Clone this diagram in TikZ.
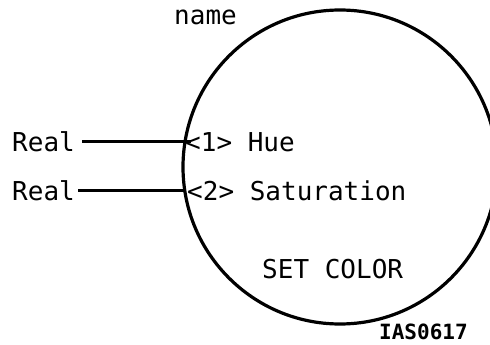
\documentclass[tikz,border=0pt]{standalone}
\usepackage{fontspec}
\setmainfont{DejaVu Sans Mono}
\usepackage{tikz}

\tikzset{
  txt/.style={anchor=base west, inner sep=0pt, font=\fontsize{26}{30}\selectfont},
  wire/.style={line width=2.8pt}
}

\begin{document}
\begin{tikzpicture}[x=1pt,y=-1pt]
      \useasboundingbox (0,0) rectangle (490,345) ;
      \clip (0,0) rectangle (490,345) ;

      \node[draw, circle, line width=3.2pt, minimum size=314pt, inner sep=0pt] (C) at (340,167) {} ;

      \node[txt] (N)  at (174, 25) {name} ;
      \node[txt] (R1) at ( 12,151) {Real} ;
      \node[txt] (R2) at ( 12,200) {Real} ;
      \node[txt] (H)  at (185,151) {<1> Hue} ;
      \node[txt] (S)  at (187,200) {<2> Saturation} ;
      \node[txt] (T)  at (262,278) {SET COLOR} ;
      \node[txt, font=\fontsize{21}{24}\selectfont\bfseries] (I) at (379,339) {IAS0617} ;

      \draw[wire] ([xshift=7pt]R1.east) -- ([xshift=7pt]R1.east -| C.170) ;
      \draw[wire] ([xshift=3pt]R2.east) -- ([xshift=3pt]R2.east -| C.189) ;
    \end{tikzpicture}
\end{document}
